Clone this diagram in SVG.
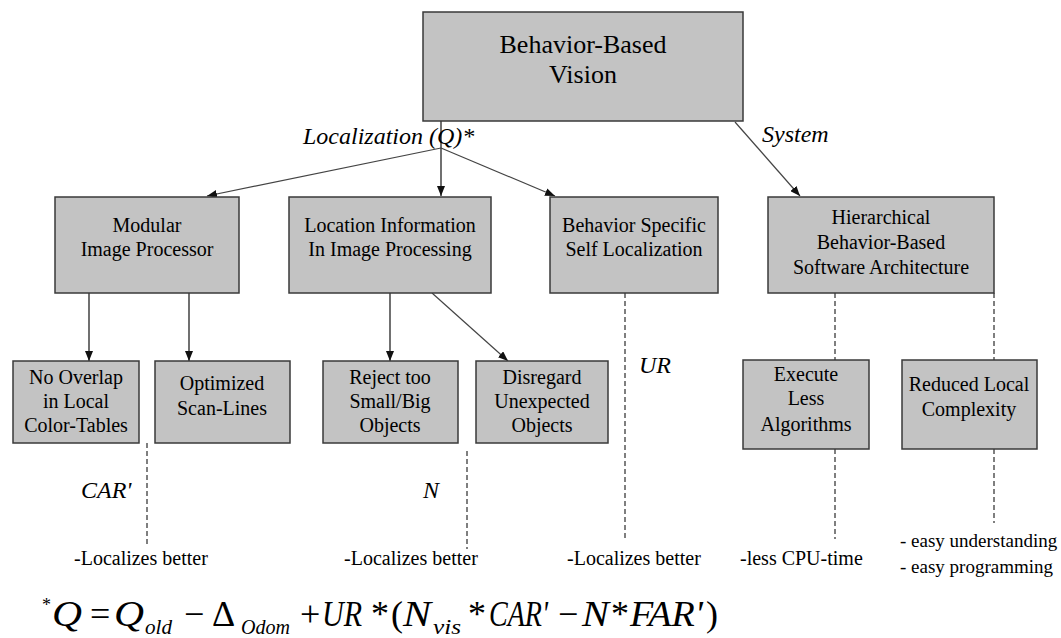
<svg xmlns="http://www.w3.org/2000/svg" width="1061" height="638" viewBox="0 0 1061 638">
  <style>
    text { font-family: "Liberation Serif", Tinos, "DejaVu Serif", serif; fill: #000; }
    .box { fill: #c3c3c3; stroke: #3a3a3a; stroke-width: 1.5; }
    .t { font-size: 20px; text-anchor: middle; }
    .big { font-size: 26px; }
    .lbl { font-size: 20px; }
    .lbs { font-size: 19px; }
    .it { font-style: italic; font-size: 24px; }
    .arrow { stroke: #111; stroke-width: 1.2; fill: none; marker-end: url(#head); }
    .arrow2 { stroke: #444; stroke-width: 1.2; fill: none; marker-end: url(#head); }
    .dash { stroke: #555; stroke-width: 1.5; stroke-dasharray: 5 3; fill: none; }
    .eq { font-size: 36px; }
    .eqi { font-style: italic; }
    .sub { font-style: italic; font-size: 21px; }
  </style>
  <defs>
    <marker id="head" markerWidth="10" markerHeight="8" refX="10" refY="4" orient="auto" markerUnits="userSpaceOnUse">
      <path d="M0,0 L10,4 L0,8 Z" fill="#111"/>
    </marker>
  </defs>

  <rect width="1061" height="638" fill="#ffffff"/>

  <!-- connectors -->
  <g id="connectors">
    <line class="arrow" x1="441" y1="121" x2="441" y2="196"/>
    <line class="arrow2" x1="441" y1="148" x2="207" y2="196"/>
    <line class="arrow2" x1="441" y1="148" x2="555" y2="196"/>
    <line class="arrow2" x1="735" y1="122" x2="800" y2="196"/>
    <line class="arrow" x1="89" y1="293" x2="89" y2="361"/>
    <line class="arrow" x1="189" y1="293" x2="189" y2="361"/>
    <line class="arrow" x1="390" y1="293" x2="390" y2="361"/>
    <line class="arrow2" x1="432" y1="293" x2="508" y2="361"/>
    <line class="dash" x1="147" y1="443" x2="147" y2="546"/>
    <line class="dash" x1="467" y1="451" x2="467" y2="549"/>
    <line class="dash" x1="625" y1="293" x2="625" y2="538"/>
    <line class="dash" x1="835" y1="293" x2="835" y2="360"/>
    <line class="dash" x1="835" y1="449" x2="835" y2="539"/>
    <line class="dash" x1="994" y1="293" x2="994" y2="360"/>
    <line class="dash" x1="994" y1="449" x2="994" y2="523"/>
  </g>

  <!-- connector labels -->
  <g id="labels">
    <text class="it" x="303" y="144">Localization (Q)*</text>
    <text class="it" x="762" y="142">System</text>
    <text class="it" x="81" y="498">CAR'</text>
    <text class="it" x="423" y="498">N</text>
    <text class="it" x="639" y="373">UR</text>
    <text class="lbl" x="74" y="565">-Localizes better</text>
    <text class="lbl" x="344" y="565">-Localizes better</text>
    <text class="lbl" x="567" y="565">-Localizes better</text>
    <text class="lbl" x="740" y="565">-less CPU-time</text>
    <text class="lbs" x="900" y="547">- easy understanding</text>
    <text class="lbs" x="900" y="573">- easy programming</text>
  </g>

  <!-- nodes -->
  <g id="vision">
    <rect class="box" x="423" y="12" width="320" height="109"/>
    <text class="t big" x="583" y="53">Behavior-Based</text>
    <text class="t big" x="583" y="83">Vision</text>
  </g>
  <g id="modular">
    <rect class="box" x="55" y="197" width="184" height="96"/>
    <text class="t" x="147" y="232">Modular</text>
    <text class="t" x="147" y="256">Image Processor</text>
  </g>
  <g id="location">
    <rect class="box" x="289" y="197" width="202" height="96"/>
    <text class="t" x="390" y="232">Location Information</text>
    <text class="t" x="390" y="256">In Image Processing</text>
  </g>
  <g id="selfloc">
    <rect class="box" x="550" y="197" width="168" height="96"/>
    <text class="t" x="634" y="232">Behavior Specific</text>
    <text class="t" x="634" y="256">Self Localization</text>
  </g>
  <g id="hierarchical">
    <rect class="box" x="768" y="197" width="226" height="96"/>
    <text class="t" x="881" y="224">Hierarchical</text>
    <text class="t" x="881" y="249">Behavior-Based</text>
    <text class="t" x="881" y="274">Software Architecture</text>
  </g>
  <g id="nooverlap">
    <rect class="box" x="13" y="361" width="126" height="82"/>
    <text class="t" x="76" y="384">No Overlap</text>
    <text class="t" x="76" y="408">in Local</text>
    <text class="t" x="76" y="432">Color-Tables</text>
  </g>
  <g id="scanlines">
    <rect class="box" x="155" y="361" width="135" height="82"/>
    <text class="t" x="222" y="390">Optimized</text>
    <text class="t" x="222" y="415">Scan-Lines</text>
  </g>
  <g id="reject">
    <rect class="box" x="323" y="361" width="135" height="82"/>
    <text class="t" x="390" y="384">Reject too</text>
    <text class="t" x="390" y="408">Small/Big</text>
    <text class="t" x="390" y="432">Objects</text>
  </g>
  <g id="disregard">
    <rect class="box" x="476" y="361" width="132" height="82"/>
    <text class="t" x="542" y="384">Disregard</text>
    <text class="t" x="542" y="408">Unexpected</text>
    <text class="t" x="542" y="432">Objects</text>
  </g>
  <g id="execute">
    <rect class="box" x="743" y="360" width="126" height="89"/>
    <text class="t" x="806" y="381">Execute</text>
    <text class="t" x="806" y="405">Less</text>
    <text class="t" x="806" y="431">Algorithms</text>
  </g>
  <g id="reduced">
    <rect class="box" x="902" y="360" width="135" height="89"/>
    <text class="t" x="969" y="391">Reduced Local</text>
    <text class="t" x="969" y="416">Complexity</text>
  </g>

  <!-- localization quality formula -->
  <g id="formula">
    <text x="42" y="611" font-size="18">*</text>
    <text class="eq eqi" x="52" y="626" textLength="30" lengthAdjust="spacingAndGlyphs">Q</text>
    <text class="eq" x="90" y="626">=</text>
    <text class="eq eqi" x="114" y="626" textLength="30" lengthAdjust="spacingAndGlyphs">Q</text>
    <text class="sub" x="145" y="634" textLength="27" lengthAdjust="spacingAndGlyphs">old</text>
    <text class="eq" x="184" y="626">−</text>
    <text class="eq" x="212" y="626">Δ</text>
    <text class="sub" x="241" y="634" textLength="49" lengthAdjust="spacingAndGlyphs">Odom</text>
    <text class="eq" x="300" y="626">+</text>
    <text class="eq eqi" x="322" y="626" textLength="40" lengthAdjust="spacingAndGlyphs">UR</text>
    <text class="eq" x="371" y="626">*</text>
    <text class="eq" x="391" y="626">(</text>
    <text class="eq eqi" x="403" y="626" textLength="28" lengthAdjust="spacingAndGlyphs">N</text>
    <text class="sub" x="433" y="634" textLength="28" lengthAdjust="spacingAndGlyphs">vis</text>
    <text class="eq" x="468" y="626">*</text>
    <text class="eq eqi" x="489" y="626" textLength="59" lengthAdjust="spacingAndGlyphs">CAR'</text>
    <text class="eq" x="558" y="626">−</text>
    <text class="eq eqi" x="582" y="626" textLength="27" lengthAdjust="spacingAndGlyphs">N</text>
    <text class="eq" x="611" y="626">*</text>
    <text class="eq eqi" x="630" y="626" textLength="73" lengthAdjust="spacingAndGlyphs">FAR'</text>
    <text class="eq" x="706" y="626">)</text>
  </g>
</svg>
